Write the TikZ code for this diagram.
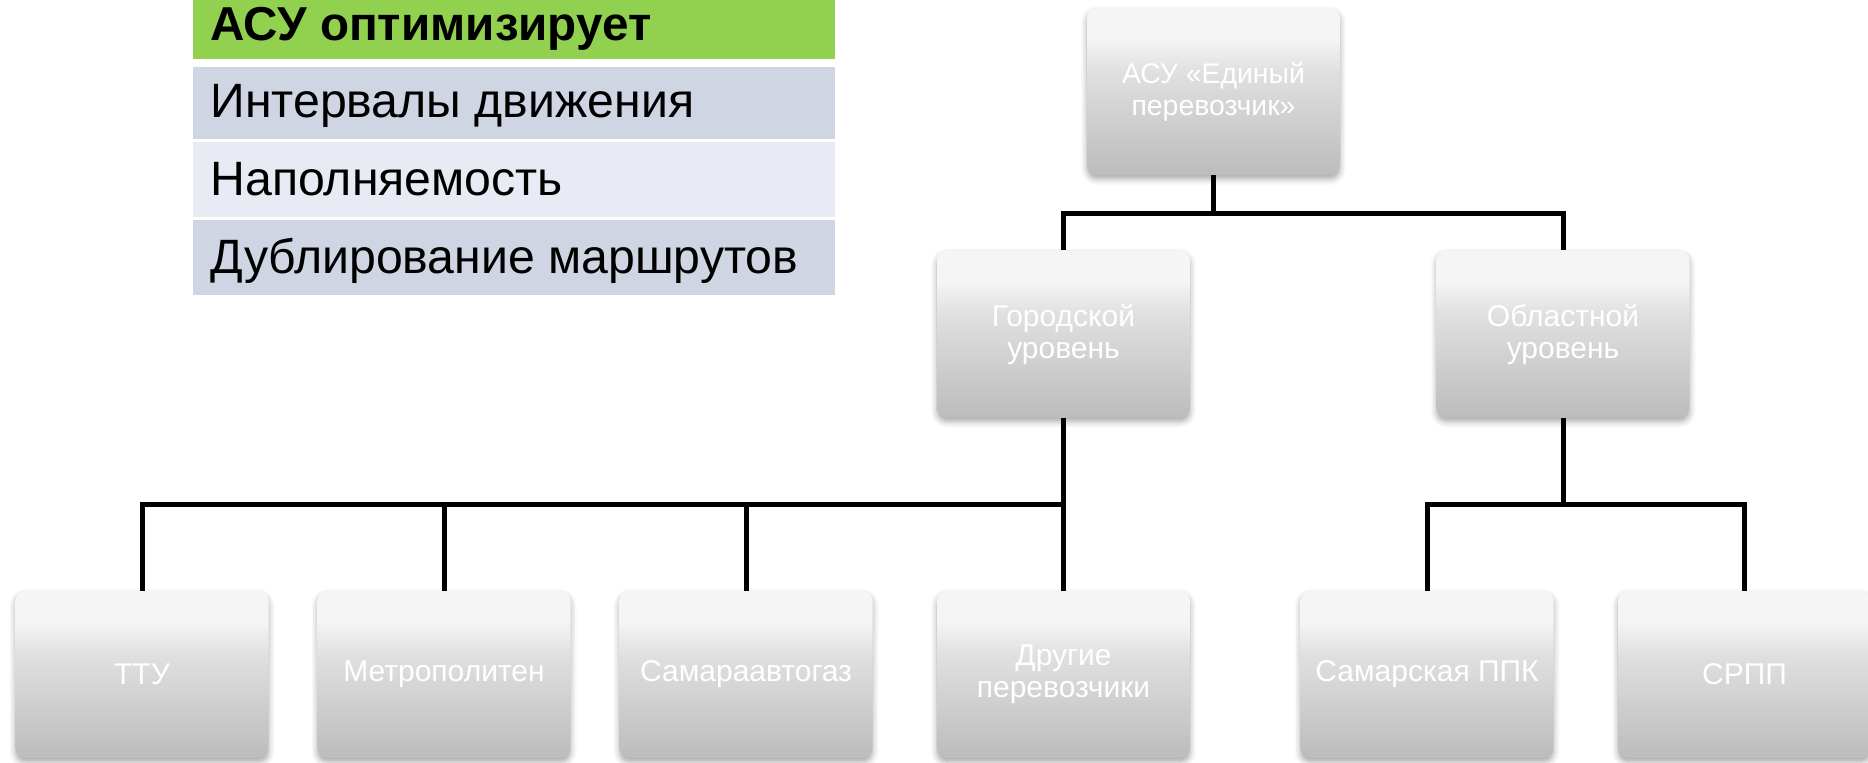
\documentclass[tikz,border=0pt]{standalone}
\usepackage{fontspec}
\setmainfont{Liberation Sans}
\usetikzlibrary{shadows.blur}
\definecolor{hdrgreen}{HTML}{92D050}
\definecolor{rowdark}{HTML}{CFD5E3}
\definecolor{rowlight}{HTML}{E8EBF3}
\definecolor{shTop}{HTML}{F5F5F5}
\definecolor{shMid}{HTML}{E0E0E0}
\definecolor{shBot}{HTML}{BCBCBC}
\pgfdeclareverticalshading{boxshade}{100bp}{color(0bp)=(shBot); color(25bp)=(shBot); color(56bp)=(shMid); color(66bp)=(shTop); color(100bp)=(shTop)}
\tikzset{
  orgbox/.style={shading=boxshade, rounded corners=5pt, minimum width=126.5pt, minimum height=83.5pt,
    inner sep=0pt, text=white, align=center, font=\fontsize{15}{16}\selectfont,
    blur shadow={shadow xshift=0pt, shadow yshift=-2pt, shadow blur radius=3pt, shadow opacity=35}},
  topbox/.style={orgbox, font=\fontsize{14.2}{16}\selectfont},
  tabrow/.style={minimum width=321pt, inner sep=0pt, draw=none},
  tabtext/.style={anchor=base west, inner sep=0pt, font=\fontsize{24.1}{28}\selectfont},
  conn/.style={line width=2.5pt, draw=black}
}
\begin{document}
\begin{tikzpicture}[x=0.5pt, y=-0.5pt]
\useasboundingbox (0,0) rectangle (1868,762);
% table
\node[tabrow, fill=hdrgreen, minimum height=29.5pt] (r1) at (514,29.5) {};
\node[tabrow, fill=rowdark, minimum height=36pt] (r2) at (514,103) {};
\node[tabrow, fill=rowlight, minimum height=37.5pt] (r3) at (514,179.5) {};
\node[tabrow, fill=rowdark, minimum height=37.5pt] (r4) at (514,257.5) {};
\node[tabtext, font=\fontsize{23.8}{28}\selectfont\bfseries] (t1) at (210,40) {АСУ оптимизирует};
\node[tabtext] (t2) at (210,117) {Интервалы движения};
\node[tabtext] (t3) at (210,195) {Наполняемость};
\node[tabtext] (t4) at (210,273) {Дублирование маршрутов};
% org chart
\node[topbox] (top) at (1213.5,91.5) {АСУ «Единый\\перевозчик»};
\node[orgbox] (city) at (1063.5,334) {Городской\\уровень};
\node[orgbox] (region) at (1563,334) {Областной\\уровень};
\node[orgbox] (ttu) at (142,674.5) {ТТУ};
\node[orgbox] (metro) at (444,674.5) {Метрополитен};
\node[orgbox] (gas) at (746,674.5) {Самараавтогаз};
\node[orgbox] (other) at (1063.5,674.5) {Другие\\перевозчики};
\node[orgbox] (ppk) at (1427,674.5) {Самарская ППК};
\node[orgbox] (srpp) at (1744.5,674.5) {СРПП};
\coordinate (j1) at (1213.5,213);
\coordinate (j2) at (1063.5,504);
\coordinate (j3) at (1563,504);
\draw[conn] (top.south) -- (j1);
\draw[conn] (j1) -| (city.north);
\draw[conn] (j1) -| (region.north);
\draw[conn] (city.south) -- (other.north);
\draw[conn] (j2) -| (ttu.north);
\draw[conn] (j2) -| (metro.north);
\draw[conn] (j2) -| (gas.north);
\draw[conn] (region.south) -- (j3);
\draw[conn] (j3) -| (ppk.north);
\draw[conn] (j3) -| (srpp.north);
\end{tikzpicture}
\end{document}
